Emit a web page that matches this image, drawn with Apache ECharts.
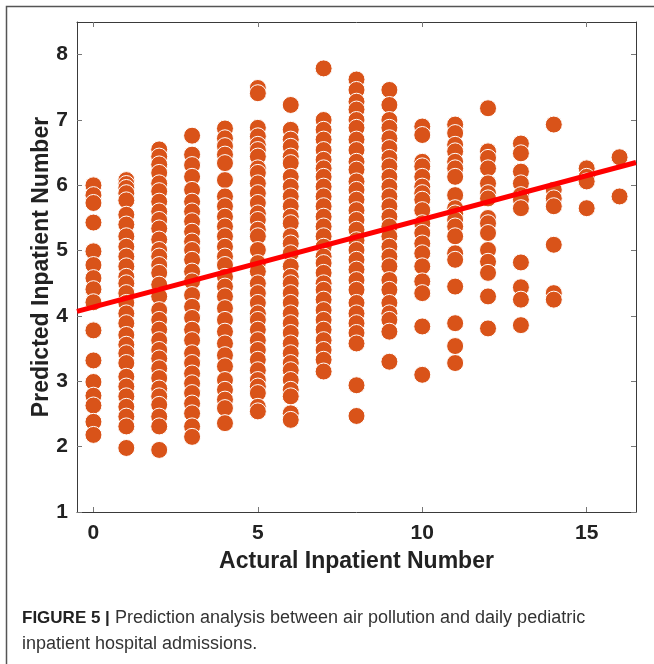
<!DOCTYPE html>
<html>
<head>
<meta charset="utf-8">
<title>Prediction analysis</title>
<script src="https://cdn.jsdelivr.net/npm/echarts@6/dist/echarts.min.js"></script>
<style>
  html, body { margin: 0; padding: 0; background: #fff; }
  #chart { width: 654px; height: 664px; }
</style>
</head>
<body>
<div id="chart"></div>
<script>
// predicted values, one list per actual inpatient number (0..16)
const col0 = [6.0, 5.85, 5.73, 5.43, 4.99, 4.78, 4.58, 4.41, 4.21, 3.78, 3.32, 2.99, 2.78, 2.63, 2.38, 2.18]
const col1 = [6.08, 6.02, 5.96, 5.88, 5.77, 5.55, 5.4, 5.22, 5.06, 4.91, 4.76, 4.6, 4.5, 4.35, 4.2, 4.04,
  3.89, 3.71, 3.56, 3.43, 3.28, 3.07, 2.92, 2.77, 2.61, 2.46, 2.31, 1.98]
const col2 = [6.55, 6.44, 6.32, 6.19, 6.03, 5.91, 5.75, 5.6, 5.47, 5.34, 5.17, 5.01, 4.91, 4.78, 4.66, 4.48,
  4.3, 4.09, 3.94, 3.79, 3.63, 3.48, 3.35, 3.2, 3.05, 2.89, 2.77, 2.64, 2.46, 2.31, 1.95]
const col3 = [6.76, 6.47, 6.31, 6.13, 5.93, 5.75, 5.6, 5.45, 5.29, 5.14, 5.01, 4.86, 4.68, 4.53, 4.32, 4.14,
  3.97, 3.79, 3.63, 3.43, 3.28, 3.12, 2.97, 2.82, 2.66, 2.51, 2.31, 2.15]
const col4 = [6.87, 6.72, 6.6, 6.47, 6.34, 6.08, 5.83, 5.68, 5.52, 5.37, 5.22, 5.06, 4.91, 4.78, 4.6, 4.45,
  4.3, 4.12, 3.94, 3.76, 3.58, 3.4, 3.23, 3.02, 2.87, 2.72, 2.59, 2.36]
const col5 = [7.49, 7.41, 6.88, 6.75, 6.62, 6.54, 6.44, 6.26, 6.19, 6.03, 5.88, 5.73, 5.57, 5.47, 5.32, 5.22,
  5.01, 4.81, 4.68, 4.5, 4.35, 4.2, 4.04, 3.94, 3.79, 3.63, 3.48, 3.33, 3.17, 3.02, 2.92, 2.82, 2.61, 2.54]
const col6 = [7.23, 6.85, 6.7, 6.59, 6.44, 6.34, 6.13, 5.98, 5.83, 5.68, 5.52, 5.42, 5.22, 5.11, 4.96, 4.76,
  4.6, 4.5, 4.35, 4.2, 4.04, 3.89, 3.74, 3.58, 3.43, 3.28, 3.17, 3.02, 2.87, 2.77, 2.51, 2.41]
const col7 = [7.79, 7.0, 6.85, 6.7, 6.54, 6.39, 6.26, 6.13, 5.98, 5.83, 5.68, 5.52, 5.37, 5.22, 5.06, 4.91,
  4.81, 4.66, 4.5, 4.4, 4.25, 4.09, 3.94, 3.79, 3.63, 3.48, 3.33, 3.15]
const col8 = [7.62, 7.46, 7.28, 7.16, 7.0, 6.88, 6.7, 6.54, 6.36, 6.24, 6.06, 5.93, 5.78, 5.62, 5.47, 5.32,
  5.16, 5.01, 4.86, 4.71, 4.55, 4.4, 4.2, 4.04, 3.89, 3.74, 3.58, 2.94, 2.47]
const col9 = [7.46, 7.23, 7.0, 6.88, 6.72, 6.57, 6.42, 6.29, 6.13, 5.98, 5.83, 5.68, 5.52, 5.37, 5.22, 5.06,
  4.91, 4.76, 4.55, 4.4, 4.2, 4.04, 3.94, 3.76, 3.3]
const col10 = [6.9, 6.77, 6.36, 6.29, 6.13, 5.98, 5.88, 5.78, 5.62, 5.42, 5.27, 5.11, 4.96, 4.76, 4.53, 4.35, 3.84, 3.1]
const col11 = [6.93, 6.8, 6.62, 6.52, 6.36, 6.26, 6.13, 5.85, 5.65, 5.57, 5.47, 5.37, 5.22, 4.96, 4.86, 4.45, 3.89, 3.54, 3.28]
const col12 = [7.18, 6.52, 6.42, 6.26, 6.03, 5.88, 5.8, 5.5, 5.42, 5.27, 5.01, 4.83, 4.66, 4.3, 3.81]
const col13 = [6.64, 6.49, 6.21, 6.03, 5.85, 5.78, 5.65, 4.82, 4.44, 4.25, 3.86]
const col14 = [6.93, 5.93, 5.8, 5.68, 5.09, 4.35, 4.25]
const col15 = [6.26, 6.13, 6.06, 5.65]
const col16 = [6.43, 5.83]
const columns = [col0, col1, col2, col3, col4, col5, col6, col7, col8, col9, col10,
  col11, col12, col13, col14, col15, col16]

// fitted line, read at the two ends of the plot box
const fitX = [-0.5, 16.5]
const fitY = [4.07, 6.35]

const xTicks = [0, 5, 10, 15]
const yTicks = [1, 2, 3, 4, 5, 6, 7, 8]

const points = []
columns.forEach((col, i) => {
  col.forEach(v => points.push([i, v]))
})

const chart = echarts.init(document.getElementById('chart'))

const font = 'Liberation Sans, Arial, sans-serif'
const boxAxis = {
  axisLine: { show: true, onZero: false, lineStyle: { color: '#3a3a3a', width: 1 } },
  axisTick: { show: true, inside: true, length: 5, lineStyle: { color: '#777' } },
  splitLine: { show: false }
}

const option = {
  animation: false,
  grid: {
    left: 77, right: 18, top: 22, bottom: 152,
    outerBoundsMode: 'none'
  },
  xAxis: [
    {
      ...boxAxis,
      type: 'value', min: -0.5, max: 16.5, position: 'bottom',
      axisTick: { ...boxAxis.axisTick, customValues: xTicks },
      axisLabel: {
        customValues: xTicks, margin: 11,
        fontFamily: font, fontWeight: 'bold', fontSize: 21, color: '#222'
      },
      name: 'Actural Inpatient Number',
      nameLocation: 'middle', nameGap: 38,
      nameTextStyle: { fontFamily: font, fontWeight: 'bold', fontSize: 23, color: '#222' }
    },
    {
      ...boxAxis,
      type: 'value', min: -0.5, max: 16.5, position: 'top',
      axisTick: { ...boxAxis.axisTick, customValues: xTicks },
      axisLabel: { show: false }
    }
  ],
  yAxis: [
    {
      ...boxAxis,
      type: 'value', min: 1, max: 8.5, position: 'left',
      axisTick: { ...boxAxis.axisTick, customValues: yTicks },
      axisLabel: {
        customValues: yTicks, margin: 9,
        fontFamily: font, fontWeight: 'bold', fontSize: 21, color: '#222'
      },
      name: 'Predicted Inpatient Number',
      nameLocation: 'middle', nameGap: 24, nameRotate: 90, nameMoveOverlap: false,
      nameTextStyle: { fontFamily: font, fontWeight: 'bold', fontSize: 23, color: '#222' }
    },
    {
      ...boxAxis,
      type: 'value', min: 1, max: 8.5, position: 'right',
      axisTick: { ...boxAxis.axisTick, customValues: yTicks },
      axisLabel: { show: false }
    }
  ],
  series: [
    {
      type: 'scatter',
      data: points,
      symbolSize: 17,
      itemStyle: { color: '#D95319', borderColor: '#fff', borderWidth: 1, opacity: 1 },
      z: 2
    },
    {
      type: 'line',
      data: fitX.map((x, i) => [x, fitY[i]]),
      symbol: 'none',
      lineStyle: { color: '#ff0000', width: 5 },
      z: 3
    }
  ],
  graphic: [
    {
      type: 'polyline',
      shape: { points: [[6.5, 664], [6.5, 6.5], [654, 6.5]] },
      style: { stroke: '#555', lineWidth: 1.5, fill: null }
    },
    {
      type: 'text',
      left: 22, top: 605,
      style: {
        text: '{b|FIGURE 5 |} Prediction analysis between air pollution and daily pediatric\ninpatient hospital admissions.',
        font: '18px "Liberation Sans Narrow", "Liberation Sans", Arial, sans-serif',
        fill: '#333',
        lineHeight: 26,
        rich: {
          b: { fontWeight: 'bold', fontSize: 17, fontFamily: font, fill: '#222' }
        }
      }
    }
  ]
}

chart.setOption(option)
</script>
</body>
</html>
